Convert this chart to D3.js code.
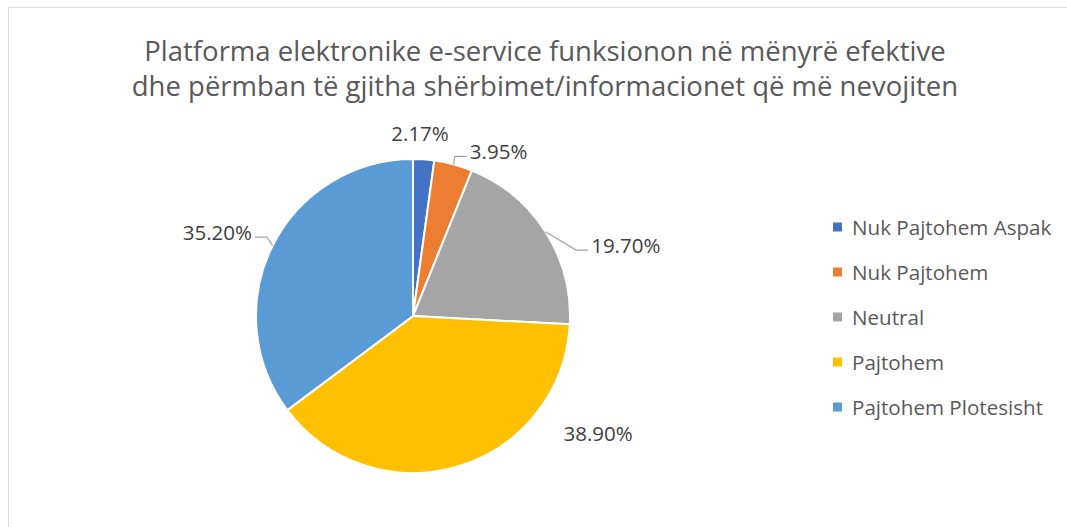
<!DOCTYPE html>
<html><head><meta charset="utf-8">
<script src="https://cdn.jsdelivr.net/npm/d3@7"></script>
<style>
html,body{margin:0;padding:0;background:#fff;}
svg{display:block;font-family:"Open Sans",sans-serif;}
</style></head>
<body><svg id="c" width="1067" height="527"></svg>
<script>
// ---- data ----
const categories = ["Nuk Pajtohem Aspak","Nuk Pajtohem","Neutral","Pajtohem","Pajtohem Plotesisht"];
const values = [2.17, 3.95, 19.70, 38.90, 35.20];
const valueLabels = ["2.17%","3.95%","19.70%","38.90%","35.20%"];
const titleLines = ["Platforma elektronike e-service funksionon në mënyrë efektive",
                    "dhe përmban të gjitha shërbimet/informacionet që më nevojiten"];
const colors = ["#4472C4","#ED7D31","#A5A5A5","#FFC000","#5B9BD5"];

// ---- layout (styling) ----
const cx = 413, cy = 316, R = 157;
// label placement in polar terms (deg clockwise from top, radius px)
const labelLayout = [
  {angle: 2.2, radius: 183, leader: false},
  {angle: 14.7, radius: 165, leader: true, side: 1},
  {angle: 68, radius: 176, leader: true, side: 1},
  {angle: 122.3, radius: 219, leader: false},
  {angle: 298.4, radius: 166, leader: true, side: -1}
];

const svg = d3.select("#c");
svg.append("rect").attr("x",8.5).attr("y",7.5).attr("width",1100).attr("height",600)
  .attr("fill","#fff").attr("stroke","#D9D9D9").attr("stroke-width",1);

// title
svg.append("g").selectAll("text").data(titleLines).join("text")
  .attr("x",545).attr("y",(d,i)=>61+i*35)
  .attr("text-anchor","middle").attr("fill","#595959")
  .style("font-size","27.5px").text(d=>d);

const pie = d3.pie().sort(null).value(d=>d);
const arcs = pie(values);
const arc = d3.arc().innerRadius(0).outerRadius(R);
const g = svg.append("g").attr("transform",`translate(${cx},${cy})`);
g.selectAll("path").data(arcs).join("path")
  .attr("d",arc).attr("fill",(d,i)=>colors[i])
  .attr("stroke","#fff").attr("stroke-width",2).attr("stroke-linejoin","round");

const polar = (deg,r)=>{const a=deg*Math.PI/180;return [r*Math.sin(a), -r*Math.cos(a)];};

arcs.forEach((d,i)=>{
  const L = labelLayout[i];
  const p = polar(L.angle, L.radius);
  if (L.leader) {
    const midDeg = (d.startAngle+d.endAngle)/2*180/Math.PI;
    const a0 = polar(midDeg, R);
    const end = [p[0]+L.side*12, p[1]];
    g.append("polyline").attr("points",[a0,p,end].map(q=>q.join(",")).join(" "))
      .attr("fill","none").attr("stroke","#A5A5A5").attr("stroke-width",1.3);
    g.append("text").attr("x",end[0]+L.side*3).attr("y",p[1]-5)
      .attr("text-anchor",L.side>0?"start":"end").attr("dominant-baseline","central")
      .attr("fill","#404040").style("font-size","20.5px").text(valueLabels[i]);
  } else {
    g.append("text").attr("x",p[0]).attr("y",p[1])
      .attr("text-anchor","middle").attr("dominant-baseline","central")
      .attr("fill","#404040").style("font-size","20.5px").text(valueLabels[i]);
  }
});

// legend
const leg = svg.append("g").attr("transform","translate(833,227)");
const rows = leg.selectAll("g").data(categories).join("g")
  .attr("transform",(d,i)=>`translate(0,${i*45})`);
rows.append("rect").attr("x",0).attr("y",-4.5).attr("width",9).attr("height",9)
  .attr("fill",(d,i)=>colors[i]);
rows.append("text").attr("x",19).attr("y",0).attr("dominant-baseline","central")
  .attr("fill","#595959").style("font-size","20.6px").text(d=>d);
</script></body></html>
